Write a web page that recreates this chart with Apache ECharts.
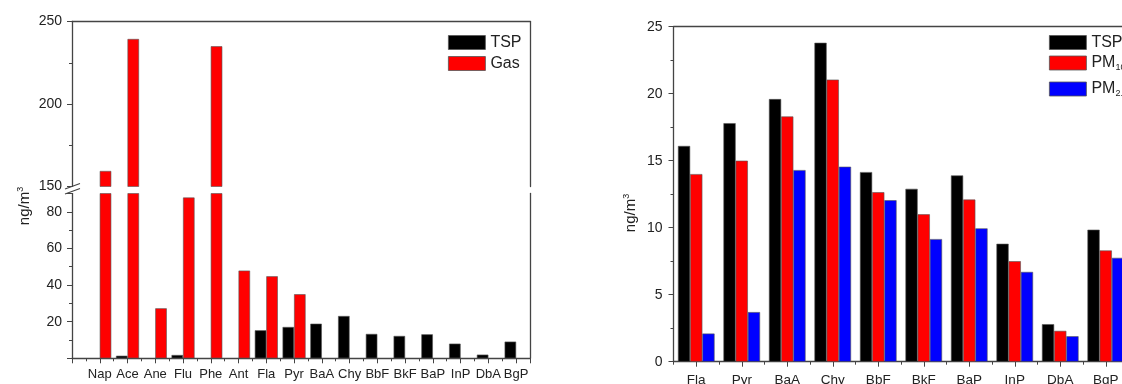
<!DOCTYPE html>
<html>
<head>
<meta charset="utf-8">
<script src="https://cdn.jsdelivr.net/npm/echarts@6/dist/echarts.min.js"></script>
<style>
html,body{margin:0;padding:0;background:#fff;}
#chart{width:1122px;height:384px;}
</style>
</head>
<body>
<div id="chart"></div>
<script>
// ---------- data ----------
const categoriesLeft = ['Nap','Ace','Ane','Flu','Phe','Ant','Fla','Pyr','BaA','Chy','BbF','BkF','BaP','InP','DbA','BgP'];
const tspLeft = [null, 1.4, null, 1.8, null, null, 15.3, 17.1, 18.9, 23.1, 13.3, 12.2, 13.1, 8.0, 2.0, 9.1];
const gasLeft = [159.4, 239.4, 27.3, 87.8, 235.0, 47.9, 44.8, 35.0, null, null, null, null, null, null, null, null];

const categoriesRight = ['Fla','Pyr','BaA','Chy','BbF','BkF','BaP','InP','DbA','BgP'];
const tspRight  = [16.1, 17.8, 19.6, 23.8, 14.15, 12.9, 13.9, 8.8, 2.8, 9.85];
const pm10Right = [14.0, 15.0, 18.3, 21.05, 12.65, 11.0, 12.1, 7.5, 2.3, 8.3];
const pm25Right = [2.1, 3.7, 14.3, 14.55, 12.05, 9.15, 9.95, 6.7, 1.9, 7.75];

const leftUpperTicks = [150, 200, 250];
const leftLowerTicks = [20, 40, 60, 80];
const rightTicks = [0, 5, 10, 15, 20, 25];

// ---------- helpers ----------
const FONT = 'Liberation Sans, Arial, sans-serif';
const AX = '#444';
const TXT = '#222';
const BREAK_LOW = 90, BREAK_HIGH = 150;

const toPts = (arr, filterFn) => arr.map((v, i) => [i + 1, (v == null || (filterFn && !filterFn(v))) ? null : v]);

const axisLineStyle = {show: true, onZero: false, lineStyle: {color: AX, width: 1.3}};

const chart = echarts.init(document.getElementById('chart'), null, {renderer: 'canvas'});

const barStyle = c => ({color: c, borderColor: '#555', borderWidth: 0.6});
const legendItemStyle = {borderColor: '#555', borderWidth: 0.8};

const option = {
  animation: false,
  backgroundColor: '#fff',
  grid: [
    {left: 72, top: 21.5, width: 458, height: 165, outerBoundsMode: 'none'},
    {left: 72, top: 193.5, width: 458, height: 164.8, outerBoundsMode: 'none'},
    {left: 673.5, top: 26.7, width: 455, height: 335, outerBoundsMode: 'none'}
  ],
  xAxis: [
    {gridIndex: 0, type: 'value', min: 0, max: 16.5, position: 'top',
     axisLine: axisLineStyle, axisTick: {show: false}, axisLabel: {show: false}, splitLine: {show: false}},
    {gridIndex: 1, type: 'value', min: 0, max: 16.5, interval: 1, position: 'bottom',
     axisLine: axisLineStyle,
     axisTick: {show: true, inside: false, length: 5, lineStyle: {color: AX, width: 1}},
     minorTick: {show: true, splitNumber: 2, length: 3, lineStyle: {color: AX, width: 1}},
     axisLabel: {margin: 10, fontSize: 13, color: TXT, fontFamily: FONT,
       formatter: v => (Number.isInteger(v) && v >= 1 && v <= categoriesLeft.length) ? categoriesLeft[v - 1] : ''},
     splitLine: {show: false}},
    {gridIndex: 2, type: 'category', data: categoriesRight, position: 'bottom', boundaryGap: true,
     axisLine: axisLineStyle,
     axisTick: {show: true, alignWithLabel: true, inside: false, length: 5, lineStyle: {color: AX, width: 1}},
     axisLabel: {margin: 12, fontSize: 13.5, color: TXT, fontFamily: FONT, interval: 0},
     splitLine: {show: false}},
    {gridIndex: 2, type: 'category', data: categoriesRight, position: 'bottom', boundaryGap: true,
     axisLine: {show: false, onZero: false},
     axisTick: {show: true, alignWithLabel: false, inside: false, length: 3, lineStyle: {color: AX, width: 1}},
     axisLabel: {show: false}, splitLine: {show: false}},
    {gridIndex: 2, type: 'category', data: categoriesRight, position: 'top',
     axisLine: axisLineStyle, axisTick: {show: false}, axisLabel: {show: false}, splitLine: {show: false}}
  ],
  yAxis: [
    {gridIndex: 0, type: 'value', min: 150, max: 250, interval: 50, position: 'left',
     axisLine: axisLineStyle,
     axisTick: {show: true, inside: false, length: 5, lineStyle: {color: AX, width: 1}},
     minorTick: {show: true, splitNumber: 2, length: 3, lineStyle: {color: AX, width: 1}},
     axisLabel: {margin: 10, fontSize: 14, color: TXT, fontFamily: FONT,
       formatter: v => leftUpperTicks.includes(v) ? String(v) : ''},
     splitLine: {show: false}},
    {gridIndex: 1, type: 'value', min: 0, max: BREAK_LOW, interval: 20, position: 'left',
     axisLine: axisLineStyle,
     axisTick: {show: true, inside: false, length: 5, lineStyle: {color: AX, width: 1}},
     minorTick: {show: true, splitNumber: 2, length: 3, lineStyle: {color: AX, width: 1}},
     axisLabel: {margin: 10, fontSize: 14, color: TXT, fontFamily: FONT, showMaxLabel: false,
       formatter: v => leftLowerTicks.includes(v) ? String(v) : ''},
     splitLine: {show: false}},
    {gridIndex: 0, type: 'value', min: 150, max: 250, position: 'right',
     axisLine: axisLineStyle, axisTick: {show: false}, axisLabel: {show: false}, splitLine: {show: false}},
    {gridIndex: 1, type: 'value', min: 0, max: BREAK_LOW, position: 'right',
     axisLine: axisLineStyle, axisTick: {show: false}, axisLabel: {show: false}, splitLine: {show: false}},
    {gridIndex: 2, type: 'value', min: 0, max: 25, interval: 5, position: 'left',
     axisLine: axisLineStyle,
     axisTick: {show: true, inside: false, length: 5, lineStyle: {color: AX, width: 1}},
     minorTick: {show: true, splitNumber: 2, length: 3, lineStyle: {color: AX, width: 1}},
     axisLabel: {margin: 11, fontSize: 14, color: TXT, fontFamily: FONT,
       formatter: v => rightTicks.includes(v) ? String(v) : ''},
     splitLine: {show: false}}
  ],
  legend: [
    {data: ['TSP', 'Gas'], orient: 'vertical', left: 443, top: 29.5, itemWidth: 37, itemHeight: 14, itemGap: 5,
     icon: 'rect', itemStyle: legendItemStyle, textStyle: {fontSize: 16, color: '#222', fontFamily: FONT}, selectedMode: false},
    {data: ['TSP'], orient: 'vertical', left: 1044, top: 29.5, itemWidth: 37, itemHeight: 14,
     icon: 'rect', itemStyle: legendItemStyle, textStyle: {fontSize: 16, color: '#222', fontFamily: FONT}, selectedMode: false},
    {data: ['PM10'], orient: 'vertical', left: 1044, top: 50, itemWidth: 37, itemHeight: 14,
     icon: 'rect', itemStyle: legendItemStyle, selectedMode: false,
     formatter: () => 'PM{sub|10}',
     textStyle: {fontSize: 16, color: '#222', fontFamily: FONT,
       rich: {sub: {fontSize: 9, color: '#222', fontFamily: FONT, verticalAlign: 'bottom', padding: [10, 0, 0, 0]}}}},
    {data: ['PM2.5'], orient: 'vertical', left: 1044, top: 76, itemWidth: 37, itemHeight: 14,
     icon: 'rect', itemStyle: legendItemStyle, selectedMode: false,
     formatter: () => 'PM{sub|2.5}',
     textStyle: {fontSize: 16, color: '#222', fontFamily: FONT,
       rich: {sub: {fontSize: 9, color: '#222', fontFamily: FONT, verticalAlign: 'bottom', padding: [10, 0, 0, 0]}}}}
  ],
  series: [
    {name: 'TSP', type: 'bar', xAxisIndex: 0, yAxisIndex: 0, barWidth: 11.5, barGap: '0%',
     data: toPts(tspLeft, v => v > BREAK_HIGH), itemStyle: barStyle('#000'), clip: true},
    {name: 'Gas', type: 'bar', xAxisIndex: 0, yAxisIndex: 0, barWidth: 11.5, barGap: '0%',
     data: toPts(gasLeft, v => v > BREAK_HIGH), itemStyle: barStyle('#ff0000'), clip: true},
    {name: 'TSP', type: 'bar', xAxisIndex: 1, yAxisIndex: 1, barWidth: 11.5, barGap: '0%',
     data: toPts(tspLeft), itemStyle: barStyle('#000'), clip: true},
    {name: 'Gas', type: 'bar', xAxisIndex: 1, yAxisIndex: 1, barWidth: 11.5, barGap: '0%',
     data: toPts(gasLeft), itemStyle: barStyle('#ff0000'), clip: true},
    {name: 'TSP', type: 'bar', xAxisIndex: 2, yAxisIndex: 4, barWidth: 12.2, barGap: '0%',
     data: tspRight, itemStyle: barStyle('#000')},
    {name: 'PM10', type: 'bar', xAxisIndex: 2, yAxisIndex: 4, barWidth: 12.2, barGap: '0%',
     data: pm10Right, itemStyle: barStyle('#ff0000')},
    {name: 'PM2.5', type: 'bar', xAxisIndex: 2, yAxisIndex: 4, barWidth: 12.2, barGap: '0%',
     data: pm25Right, itemStyle: barStyle('#0000ff')}
  ],
  graphic: [
    {type: 'rect', shape: {x: 68, y: 187, width: 8, height: 6}, style: {fill: '#fff'}, z: 100},
    {type: 'line', shape: {x1: 65, y1: 189, x2: 80, y2: 183.5}, style: {stroke: AX, lineWidth: 1.2}, z: 101},
    {type: 'line', shape: {x1: 65, y1: 194, x2: 80, y2: 188.5}, style: {stroke: AX, lineWidth: 1.2}, z: 101},
    {type: 'text', x: 25, y: 206, rotation: Math.PI / 2, z: 100,
     style: {text: 'ng/m{s|3}', fill: '#222', font: '15px ' + FONT, align: 'center', verticalAlign: 'middle',
       rich: {s: {fontSize: 9, fill: '#222', verticalAlign: 'top', padding: [0, 0, 8, 0]}}}},
    {type: 'text', x: 631, y: 213, rotation: Math.PI / 2, z: 100,
     style: {text: 'ng/m{s|3}', fill: '#222', font: '15px ' + FONT, align: 'center', verticalAlign: 'middle',
       rich: {s: {fontSize: 9, fill: '#222', verticalAlign: 'top', padding: [0, 0, 8, 0]}}}}
  ]
};
chart.setOption(option);
</script>
</body>
</html>
